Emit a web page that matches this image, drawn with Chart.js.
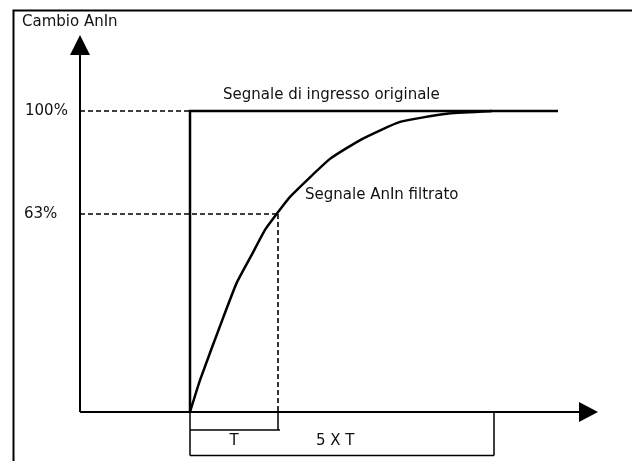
<!DOCTYPE html>
<html>
<head>
<meta charset="utf-8">
<script src="https://cdn.jsdelivr.net/npm/chart.js@4/dist/chart.umd.min.js"></script>
<style>
  html, body { margin: 0; padding: 0; background: #fff; }
  #wrap { width: 632px; height: 461px; position: relative; }
</style>
</head>
<body>
<div id="wrap"><canvas id="c" width="632" height="461"></canvas></div>
<script>
// ---- values (x: time units from the y-axis, y: percent of change) ----
const axisTitle = 'Cambio AnIn';
const levelLabels = ['100%', '63%'];
const levelValues = [100, 65.8];
const stepTime = 110;          // moment the input steps
const tTime = 198;             // end of one time constant T
const fiveTTime = 414;         // end of 5 x T
const inputEndTime = 478;      // end of the drawn input signal
const xAxisEnd = 499;
const yAxisEnd = 118.6;
const inputX = [stepTime, stepTime, inputEndTime];
const inputY = [0, 100, 100];
const filteredX = [110, 120, 143, 156.7, 171.7, 185, 196.7, 210, 250, 282, 320, 366.7, 412];
const filteredY = [0, 10.6, 31.2, 42.9, 52.2, 60.5, 65.8, 71.5, 84.1, 90.7, 96.4, 99.1, 100];
const bracketLabels = ['T', '5 X T'];
const seriesLabels = ['Segnale di ingresso originale', 'Segnale AnIn filtrato'];

// ---- building the datasets ----
const pts = (xs, ys) => xs.map((x, i) => ({ x, y: ys[i] }));
const black = '#000';
function seg(data, width, dash, tension) {
  return { data, showLine: true, borderColor: black, borderWidth: width, borderDash: dash || [],
           pointRadius: 0, fill: false, tension: tension || 0, borderCapStyle: 'butt', borderJoinStyle: 'miter' };
}
const tBracketY = -6.0, fiveTBracketY = -14.5;

const datasets = [
  seg(pts([0, 0], [0, yAxisEnd]), 2),                              // y axis
  seg(pts([0, xAxisEnd], [0, 0]), 2),                              // x axis
  seg(pts([0, stepTime], [levelValues[0], levelValues[0]]), 1.6, [5, 3]),
  seg(pts([0, tTime], [levelValues[1], levelValues[1]]), 1.6, [5, 3]),
  seg(pts([tTime, tTime], [levelValues[1], 0]), 1.6, [5, 3]),
  seg(pts(inputX, inputY), 2.5),                                   // original input
  seg(pts(filteredX, filteredY), 2.5, null, 0.15),                 // filtered signal
  seg(pts([stepTime, stepTime], [0, fiveTBracketY]), 1.5),
  seg(pts([stepTime, tTime + 2], [tBracketY, tBracketY]), 1.5),
  seg(pts([tTime, tTime], [0, tBracketY]), 1.5),
  seg(pts([stepTime, fiveTTime], [fiveTBracketY, fiveTBracketY]), 1.5),
  seg(pts([fiveTTime, fiveTTime], [0, fiveTBracketY]), 1.5)
];

const FONT = '15px "DejaVu Sans", Arial, sans-serif';

const decor = {
  id: 'decor',
  beforeDraw(chart) {
    const ctx = chart.ctx;
    ctx.save();
    ctx.fillStyle = '#fff';
    ctx.fillRect(0, 0, chart.width, chart.height);
    // frame
    ctx.strokeStyle = black;
    ctx.lineWidth = 2;
    ctx.beginPath();
    ctx.moveTo(13.5, chart.height);
    ctx.lineTo(13.5, 10.5);
    ctx.lineTo(chart.width, 10.5);
    ctx.stroke();
    ctx.restore();
  },
  afterDatasetsDraw(chart) {
    const ctx = chart.ctx;
    const xs = chart.scales.x, ys = chart.scales.y;
    const px = v => xs.getPixelForValue(v), py = v => ys.getPixelForValue(v);
    ctx.save();
    ctx.fillStyle = black;
    // arrow heads
    const yx = px(0), yy = py(yAxisEnd);
    ctx.beginPath();
    ctx.moveTo(yx, yy - 20); ctx.lineTo(yx - 10, yy); ctx.lineTo(yx + 10, yy); ctx.closePath(); ctx.fill();
    const xx = px(xAxisEnd), xy = py(0);
    ctx.beginPath();
    ctx.moveTo(xx + 19, xy); ctx.lineTo(xx, xy - 10); ctx.lineTo(xx, xy + 10); ctx.closePath(); ctx.fill();
    // texts
    ctx.fillStyle = '#111';
    ctx.font = FONT;
    ctx.textBaseline = 'middle';
    ctx.textAlign = 'left';
    ctx.fillText(axisTitle, px(-58), 22);
    ctx.fillText(levelLabels[0], px(-55), py(levelValues[0]));
    ctx.fillText(levelLabels[1], px(-56), py(levelValues[1]));
    ctx.fillText(seriesLabels[0], px(143), py(105.3));
    ctx.fillText(seriesLabels[1], px(225), py(72.1));
    ctx.textAlign = 'center';
    ctx.fillText(bracketLabels[0], px(154), py(-9.6));
    ctx.textAlign = 'left';
    ctx.fillText(bracketLabels[1], px(236), py(-9.6));
    ctx.restore();
  }
};

new Chart(document.getElementById('c'), {
  type: 'scatter',
  data: { datasets },
  options: {
    responsive: false,
    animation: false,
    layout: { padding: 0 },
    plugins: { legend: { display: false }, tooltip: { enabled: false } },
    elements: { line: { clip: false } },
    scales: {
      x: { type: 'linear', display: false, min: -80, max: 552 },
      y: { type: 'linear', display: false, min: -16.3, max: 136.9 }
    }
  },
  plugins: [decor]
});
</script>
</body>
</html>
